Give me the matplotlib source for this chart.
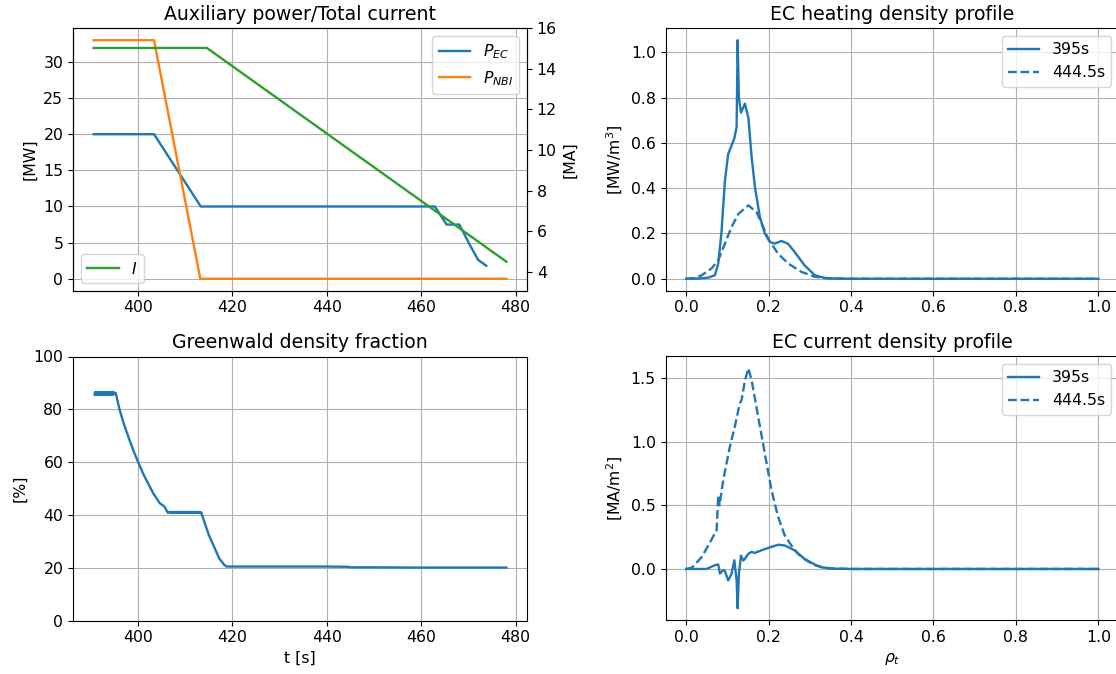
import matplotlib
matplotlib.use("Agg")
import matplotlib.pyplot as plt

plt.rcParams["font.size"] = 11.3
plt.rcParams["lines.linewidth"] = 1.7

# ---------------- data ----------------
# Auxiliary power / total current
t_ec = [390.6, 403.4, 413.3, 462.9, 465.4, 468.1, 470.3, 472.1, 473.8]
p_ec = [20.0, 20.0, 10.0, 10.0, 7.5, 7.5, 4.7, 2.6, 1.8]

t_nbi = [390.6, 403.4, 413.2, 478.06]
p_nbi = [33.0, 33.0, 0.0, 0.0]

t_ip = [390.6, 414.6, 478.06]
ip = [15.03, 15.03, 4.49]

# Greenwald density fraction
t_gw = [390.8, 390.9, 391.0, 391.1, 391.2, 391.3, 391.4, 391.5, 391.6, 391.7,
        391.8, 391.9, 392.0, 392.1, 392.2, 392.3, 392.4, 392.5, 392.6, 392.7,
        392.8, 392.9, 393.0, 393.1, 393.2, 393.3, 393.4, 393.5, 393.6, 393.7,
        393.8, 393.9, 394.0, 394.1, 394.2, 394.3, 394.4, 394.5, 394.6, 394.7,
        394.8, 394.9, 395.0, 395.3, 396.1, 397.0, 398.2, 399.0, 400.0, 401.0,
        401.75, 403.2, 404.6, 405.6, 406.3, 406.6, 406.8, 407.0, 407.2, 407.4,
        407.6, 407.8, 408.0, 408.2, 408.4, 408.6, 408.8, 409.0, 409.2, 409.4,
        409.6, 409.8, 410.0, 410.2, 410.4, 410.6, 410.8, 411.0, 411.2, 411.4,
        411.6, 411.8, 412.0, 412.2, 412.4, 412.6, 412.8, 413.0, 413.2, 413.4,
        414.4, 415.0, 415.8, 417.2, 418.3, 418.8, 425.0, 430.0, 435.0, 440.0,
        444.5, 445.0, 450.0, 460.0, 470.0, 478.06]
f_gw = [85.6, 86.5, 85.6, 86.5, 85.6, 86.5, 85.6, 86.5, 85.6, 86.5,
        85.6, 86.5, 85.6, 86.5, 85.6, 86.5, 85.6, 86.5, 85.6, 86.5,
        85.6, 86.5, 85.6, 86.5, 85.6, 86.5, 85.6, 86.5, 85.6, 86.5,
        85.6, 86.5, 85.6, 86.5, 85.6, 86.5, 85.6, 86.5, 85.6, 86.5,
        85.6, 86.5, 86.1, 86.1, 79.8, 74.5, 68.4, 64.5, 60.2, 56.0,
        53.3, 48.3, 44.5, 43.2, 40.9, 41.2, 40.8, 41.2, 40.8, 41.2,
        40.8, 41.2, 40.8, 41.2, 40.8, 41.2, 40.8, 41.2, 40.8, 41.2,
        40.8, 41.2, 40.8, 41.2, 40.8, 41.2, 40.8, 41.2, 40.8, 41.2,
        40.8, 41.2, 40.8, 41.2, 40.8, 41.2, 40.8, 41.2, 40.8, 41.0,
        35.6, 32.5, 29.3, 23.6, 21.1, 20.5, 20.5, 20.5, 20.5, 20.5,
        20.4, 20.2, 20.2, 20.1, 20.1, 20.1]

# EC heating density profile
rho_h1 = [0.0, 0.03, 0.054, 0.070, 0.078, 0.086, 0.094, 0.102, 0.110, 0.117,
          0.1225, 0.125, 0.128, 0.133, 0.1426, 0.151, 0.159, 0.167, 0.179, 0.191,
          0.203, 0.215, 0.231, 0.247, 0.263, 0.287, 0.312, 0.335, 0.36, 0.40, 1.0]
q_h1 = [0.0, 0.001, 0.005, 0.016, 0.068, 0.21, 0.43, 0.55, 0.587, 0.62,
        0.67, 1.053, 0.80, 0.733, 0.773, 0.71, 0.536, 0.404, 0.272, 0.20,
        0.163, 0.155, 0.167, 0.155, 0.119, 0.06, 0.016, 0.004, 0.001, 0.0, 0.0]

rho_h2 = [0.0, 0.022, 0.038, 0.062, 0.078, 0.094, 0.110, 0.127, 0.151, 0.171,
          0.187, 0.199, 0.223, 0.247, 0.279, 0.312, 0.34, 0.40, 1.0]
q_h2 = [0.0, 0.003, 0.016, 0.046, 0.082, 0.155, 0.228, 0.287, 0.324, 0.294,
        0.228, 0.177, 0.111, 0.068, 0.031, 0.009, 0.002, 0.0, 0.0]

# EC current density profile
rho_j1 = [0.0, 0.05, 0.070, 0.078, 0.082, 0.090, 0.094, 0.102, 0.110, 0.117,
          0.1225, 0.125, 0.128, 0.133, 0.1386, 0.1426, 0.151, 0.159, 0.167, 0.183,
          0.199, 0.223, 0.239, 0.263, 0.287, 0.312, 0.328, 0.36, 0.40, 1.0]
j_1 = [0.0, 0.0, 0.03, 0.035, -0.036, -0.01, -0.015, -0.09, -0.04, 0.068,
       -0.09, -0.309, -0.04, 0.105, 0.066, 0.08, 0.12, 0.134, 0.126, 0.147,
       0.165, 0.19, 0.185, 0.147, 0.08, 0.035, 0.013, 0.002, 0.0, 0.0]

rho_j2 = [0.0, 0.014, 0.038, 0.054, 0.074, 0.0766, 0.078, 0.081, 0.090, 0.106,
          0.118, 0.130, 0.1345, 0.1426, 0.151, 0.159, 0.175, 0.191, 0.207, 0.223,
          0.239, 0.255, 0.271, 0.29, 0.312, 0.34, 0.40, 1.0]
j_2 = [0.0, 0.01, 0.094, 0.186, 0.304, 0.487, 0.579, 0.50, 0.697, 0.958,
       1.115, 1.30, 1.325, 1.48, 1.576, 1.48, 1.19, 0.906, 0.62, 0.41,
       0.265, 0.186, 0.12, 0.07, 0.03, 0.005, 0.0, 0.0]

labels_t = ["395s", "444.5s"]

# ---------------- figure ----------------
W, H = 1116, 674
fig = plt.figure(figsize=(W / 100, H / 100), dpi=100)

def rect(x0, y0, x1, y1):
    return [x0 / W, 1 - y1 / H, (x1 - x0) / W, (y1 - y0) / H]

ax1 = fig.add_axes(rect(73, 28.3, 527, 290.7))
ax3 = fig.add_axes(rect(73, 356.5, 527, 620.7))
ax2 = fig.add_axes(rect(665.5, 28.3, 1119, 290.7))
ax4 = fig.add_axes(rect(665.5, 356.3, 1119, 620.3))

# Top-left
ax1.plot(t_ec, p_ec, color="C0", label=r"$P_{EC}$")
ax1.plot(t_nbi, p_nbi, color="C1", label=r"$P_{NBI}$")
ax1.set_ylabel("[MW]")
ax1.set_title("Auxiliary power/Total current")
ax1.grid(True)
ax1.set_yticks([0, 5, 10, 15, 20, 25, 30])
ax1.legend(loc="upper right")
ax1b = ax1.twinx()
ax1b.plot(t_ip, ip, color="C2", label=r"$I$")
ax1b.set_ylim(3.06, 16.0)
ax1b.set_yticks([4, 6, 8, 10, 12, 14, 16])
ax1b.set_ylabel("[MA]")
ax1b.legend(loc="lower left")

# Bottom-left
ax3.plot(t_gw, f_gw, color="C0")
ax3.set_ylim(0, 100)
ax3.set_xlim(ax1.get_xlim())
ax3.set_ylabel("[%]")
ax3.set_xlabel("t [s]")
ax3.set_title("Greenwald density fraction")
ax3.grid(True)

# Top-right
ax2.plot(rho_h1, q_h1, color="C0", ls="-", label=labels_t[0])
ax2.plot(rho_h2, q_h2, color="C0", ls="--", label=labels_t[1])
ax2.set_ylabel("[MW/m$^3$]")
ax2.set_title("EC heating density profile")
ax2.set_yticks([0.0, 0.2, 0.4, 0.6, 0.8, 1.0])
ax2.grid(True)
ax2.legend(loc="upper right")

# Bottom-right
ax4.plot(rho_j1, j_1, color="C0", ls="-", label=labels_t[0])
ax4.plot(rho_j2, j_2, color="C0", ls="--", label=labels_t[1])
ax4.set_ylabel("[MA/m$^2$]")
ax4.set_xlabel(r"$\rho_t$")
ax4.set_title("EC current density profile")
ax4.set_yticks([0.0, 0.5, 1.0, 1.5])
ax4.grid(True)
ax4.legend(loc="upper right")

fig.savefig("out.png", dpi=100)
